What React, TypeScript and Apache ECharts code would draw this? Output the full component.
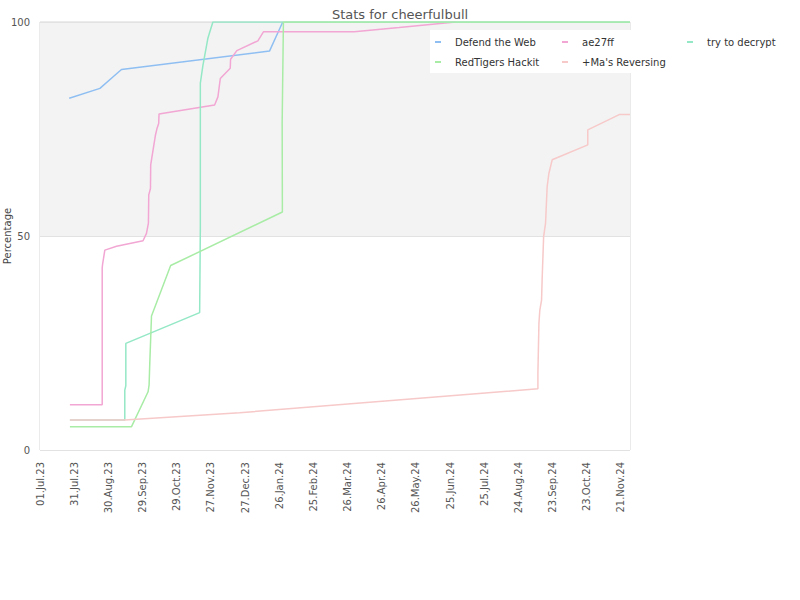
import React, { useEffect, useRef } from "react";
import * as echarts from "echarts";

const seriesNames = ["Defend the Web", "ae27ff", "try to decrypt", "RedTigers Hackit", "+Ma's Reversing"];
const seriesColors = ["#8fbff2", "#f2a6d3", "#94e8c6", "#a8eca6", "#f7c9c9"];

// x = days since 01.Jul.23, y = percentage
const defendTheWeb = [
  [25.6, 82.2], [52.5, 84.5], [64.1, 87.2], [71.4, 88.9], [201.1, 93.2], [212.7, 100],
];
const ae27ff = [
  [26.2, 10.6], [54.5, 10.6], [54.5, 42.5], [54.8, 43.3], [56.8, 46.7], [67.1, 47.6], [90.3, 48.9],
  [93.3, 50.6], [95.0, 53.0], [95.3, 59.6], [96.8, 61.1], [97.0, 66.6], [99.1, 70.1], [101.2, 73.6],
  [102.6, 75.2], [104.0, 76.3], [104.3, 78.5], [113.7, 78.9], [153.0, 80.6], [155.9, 82.5],
  [158.0, 86.8], [166.7, 89.2], [167.0, 91.3], [172.5, 93.3], [190.9, 95.6], [195.8, 97.7],
  [275.4, 97.7], [314.7, 98.7], [364.3, 100],
];
const tryToDecrypt = [
  [26.2, 7.0], [74.3, 7.0], [74.3, 14.0], [75.2, 15.0], [75.2, 24.9], [139.9, 32.1], [140.5, 52.0],
  [140.5, 85.7], [142.8, 89.9], [147.1, 96.2], [151.5, 100], [517, 100],
];
const redTigersHackit = [
  [26.2, 5.45], [80.2, 5.45], [94.7, 13.6], [95.6, 15.2], [96.2, 20.3], [97.7, 31.3], [114.5, 43.1],
  [212.4, 55.6], [212.2, 76.3], [213.3, 100], [517, 100],
];
const masReversing = [
  [26.2, 7.0], [74.3, 7.0], [174.9, 8.7], [384.7, 13.2], [436.3, 14.3], [436.3, 18.0], [437.2, 29.6],
  [438.0, 32.7], [439.5, 35.0], [440.0, 39.7], [441.3, 49.8], [443.0, 53.0], [444.4, 61.5],
  [445.9, 64.6], [448.8, 67.8], [480.0, 71.3], [480.0, 74.8], [508.0, 78.4], [517, 78.4],
];
const seriesData = [defendTheWeb, ae27ff, tryToDecrypt, redTigersHackit, masReversing];

const xTickLabels = [
  "01.Jul.23", "31.Jul.23", "30.Aug.23", "29.Sep.23", "29.Oct.23", "27.Nov.23", "27.Dec.23",
  "26.Jan.24", "25.Feb.24", "26.Mar.24", "26.Apr.24", "26.May.24", "25.Jun.24", "25.Jul.24",
  "24.Aug.24", "23.Sep.24", "23.Oct.24", "21.Nov.24",
];
const xMax = 517;
const xStep = 509 / 17;

const FONT = "DejaVu Sans";

export default function App() {
  const ref = useRef<HTMLDivElement>(null);
  useEffect(() => {
    if (!ref.current) return;
    const chart = echarts.init(ref.current, undefined, { renderer: "svg" });
    const legendBase = {
      orient: "vertical" as const,
      top: 36,
      padding: 0,
      itemGap: 8,
      itemWidth: 6,
      itemHeight: 2,
      icon: "rect",
      z: 20,
      textStyle: { fontFamily: FONT, fontSize: 10, color: "#333", padding: [0, 0, 0, 9], lineHeight: 12 },
    };
    chart.setOption({
      animation: false,
      title: {
        text: "Stats for cheerfulbull",
        left: "center",
        top: 3,
        textStyle: { fontFamily: FONT, fontSize: 13, fontWeight: "normal", color: "#555" },
      },
      legend: [
        { ...legendBase, left: 435, data: [seriesNames[0], seriesNames[3]] },
        { ...legendBase, left: 562, data: [seriesNames[1], seriesNames[4]] },
        { ...legendBase, left: 687, data: [seriesNames[2]] },
      ],
      graphic: [
        {
          type: "rect",
          z: 10,
          shape: { x: 430, y: 30, width: 370, height: 43 },
          style: { fill: "#ffffff" },
        },
      ],
      grid: {
        left: 40, right: 170, top: 22, bottom: 150,
        containLabel: false, outerBoundsMode: "none",
        show: true, borderColor: "#d6d6d6", borderWidth: 1, backgroundColor: "transparent",
      },
      xAxis: {
        type: "value",
        min: 0,
        max: xMax,
        interval: xStep,
        axisLine: { show: false },
        axisTick: { show: false },
        splitLine: { show: false },
        axisLabel: {
          rotate: 90,
          margin: 12,
          fontFamily: FONT,
          fontSize: 10,
          color: "#555",
          formatter: (v: number) => {
            const i = Math.round(v / xStep);
            if (Math.abs(v - i * xStep) > 0.5) return "";
            return xTickLabels[i] ?? "";
          },
        },
      },
      yAxis: {
        type: "value",
        min: 0,
        max: 100,
        interval: 50,
        name: "Percentage",
        nameLocation: "middle",
        nameGap: 28,
        nameMoveOverlap: false,
        nameTextStyle: { fontFamily: FONT, fontSize: 10, color: "#444" },
        axisLine: { show: false },
        axisTick: { show: false },
        axisLabel: { margin: 10, fontFamily: FONT, fontSize: 10, color: "#555" },
        splitLine: { show: true, lineStyle: { color: "#e2e2e2", width: 1 } },
        splitArea: { show: true, areaStyle: { color: ["#ffffff", "#f3f3f3"] } },
      },
      series: seriesNames.map((name, i) => ({
        name,
        type: "line",
        data: seriesData[i],
        showSymbol: false,
        symbol: "none",
        color: seriesColors[i],
        lineStyle: { width: 1.5, color: seriesColors[i] },
      })),
    });
    return () => chart.dispose();
  }, []);
  return <div ref={ref} style={{ position: "absolute", left: 0, top: 0, width: 800, height: 600 }} />;
}
